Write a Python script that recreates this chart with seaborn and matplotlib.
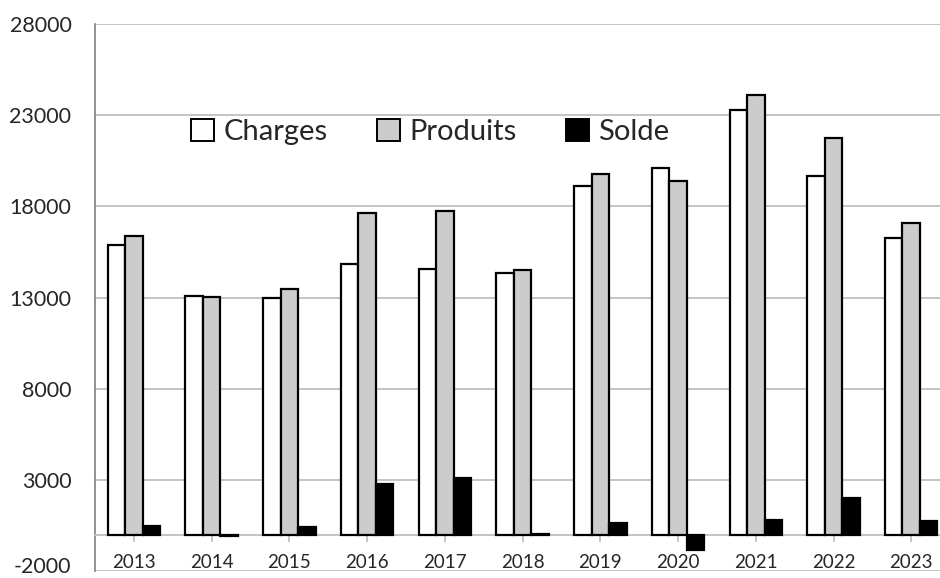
import matplotlib
matplotlib.use("Agg")
import matplotlib.pyplot as plt
import matplotlib.transforms as mtransforms
import seaborn as sns
import pandas as pd
from matplotlib.patches import Patch

years = ["2013", "2014", "2015", "2016", "2017", "2018", "2019", "2020", "2021", "2022", "2023"]
charges = [15900, 13100, 13000, 14830, 14580, 14320, 19100, 20120, 23300, 19670, 16270]
produits = [16400, 13010, 13450, 17640, 17730, 14490, 19780, 19380, 24130, 21750, 17080]
solde = [450, -80, 400, 2775, 3100, 50, 620, -860, 785, 2025, 765]
series = ["Charges", "Produits", "Solde"]
colors = ["#FFFFFF", "#CCCCCC", "#000000"]
yticks = [-2000, 3000, 8000, 13000, 18000, 23000, 28000]

df = pd.DataFrame({
    "year": years * 3,
    "value": charges + produits + solde,
    "serie": [series[0]] * 11 + [series[1]] * 11 + [series[2]] * 11,
})

sns.set_theme(style="white")
plt.rcParams["font.family"] = ["Lato", "DejaVu Sans"]

fig = plt.figure(figsize=(9.4, 5.78), dpi=100)
ax = fig.add_axes([95 / 940, 1 - 571 / 578, 1 - 95 / 940, (571 - 24) / 578])

for y in yticks:
    ax.axhline(y, color="#BFBFBF", lw=1.3, zorder=0)

sns.barplot(data=df, x="year", y="value", hue="serie", hue_order=series,
            palette=colors, edgecolor="black", linewidth=1.6, width=0.675,
            saturation=1, legend=False, ax=ax, zorder=3)

ax.set_ylim(-2000, 28000)
ax.set_xlim(-0.5, 10.37)
ax.set_yticks(yticks)
ax.set_yticklabels([str(v) for v in yticks], fontsize=15.5)
ax.tick_params(axis="y", length=0, pad=17)
ax.set_xlabel("")
ax.set_ylabel("")

# keep the lowest label inside the canvas
lbl = ax.get_yticklabels()[0]
lbl.set_transform(lbl.get_transform() + mtransforms.ScaledTranslation(0, 6 / 100, fig.dpi_scale_trans))

for s in ["top", "right"]:
    ax.spines[s].set_visible(False)
ax.spines["left"].set_color("#808080")
ax.spines["left"].set_linewidth(1.2)
ax.spines["bottom"].set_position(("data", 0))
ax.spines["bottom"].set_color("#BFBFBF")
ax.spines["bottom"].set_linewidth(1.3)
ax.tick_params(axis="x", length=5, color="#BFBFBF", width=1.3, pad=9, labelsize=13.5, direction="out", bottom=True)

handles = [Patch(facecolor=c, edgecolor="black", linewidth=1.4) for c in colors]
ax.legend(handles, series, ncol=3, frameon=False, fontsize=21,
          loc="center", bbox_to_anchor=(430 / 940, 1 - 132 / 578),
          bbox_transform=fig.transFigure, handlelength=0.8, handleheight=0.8,
          handletextpad=0.3, columnspacing=1.7)

fig.savefig("out.png", dpi=100)
